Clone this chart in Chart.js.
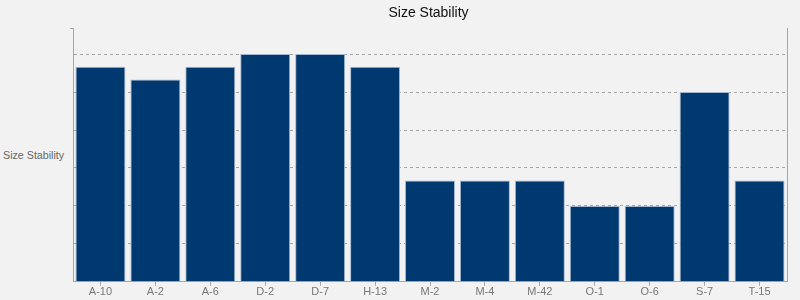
<!DOCTYPE html>
<html>
<head>
<meta charset="utf-8">
<script src="https://cdn.jsdelivr.net/npm/chart.js@4/dist/chart.umd.min.js"></script>
<style>
  html, body { margin: 0; padding: 0; background: #f2f2f2; width: 800px; height: 300px; overflow: hidden; }
  #wrap { position: absolute; left: 60px; top: 0; width: 740px; height: 300px; }
  #ylabel { position: absolute; left: 3px; top: 149px; font: 10.7px "Liberation Sans", Arial, sans-serif; color: #666; white-space: nowrap; }
</style>
</head>
<body>
<div id="ylabel">Size Stability</div>
<div id="wrap"><canvas id="c" width="740" height="300"></canvas></div>
<script>
const categories = ["A-10", "A-2", "A-6", "D-2", "D-7", "H-13", "M-2", "M-4", "M-42", "O-1", "O-6", "S-7", "T-15"];
const sizeStability = [8.5, 8, 8.5, 9, 9, 8.5, 4, 4, 4, 3, 3, 7.5, 4];
const yMax = 10;
const yStep = 1.5;
const titleText = "Size Stability";

const FONT = "'Liberation Sans', Arial, sans-serif";
const gridGrey = "#a6a6a6";

new Chart(document.getElementById("c"), {
  type: "bar",
  data: {
    labels: categories,
    datasets: [{
      label: "Size Stability",
      data: sizeStability,
      backgroundColor: "#003870",
      borderColor: "#a3b6cf",
      borderWidth: 1,
      categoryPercentage: 0.91,
      barPercentage: 1.0
    }]
  },
  options: {
    responsive: false,
    animation: false,
    layout: { padding: { left: 10, right: 13, top: 0, bottom: 1 } },
    plugins: {
      legend: { display: false },
      tooltip: { enabled: false },
      title: {
        display: true,
        text: titleText,
        color: "#111",
        font: { family: FONT, size: 14, weight: "normal" },
        padding: { top: 5, bottom: 7 }
      }
    },
    scales: {
      x: {
        grid: { display: true, drawOnChartArea: false, offset: false, tickLength: 4, tickColor: gridGrey },
        border: { display: true, color: gridGrey, dash: [3, 3] },
        ticks: { color: "#777", font: { family: FONT, size: 11 }, padding: 0, maxRotation: 0 }
      },
      y: {
        min: 0,
        max: yMax,
        ticks: { display: false, stepSize: yStep },
        grid: {
          drawTicks: true,
          tickLength: 3,
          color: (ctx) => (ctx.tick && (ctx.tick.value === yMax || ctx.tick.value === 0)) ? "rgba(0,0,0,0)" : gridGrey,
          tickColor: (ctx) => (ctx.tick && ctx.tick.value === yMax) ? gridGrey : "rgba(0,0,0,0)"
        },
        border: { display: true, color: gridGrey, dash: [3, 3] }
      },
      y2: {
        position: "right",
        min: 0,
        max: yMax,
        ticks: { display: false },
        grid: { display: false, drawTicks: false },
        border: { display: true, color: gridGrey, dash: [3, 3] }
      }
    }
  }
});
</script>
</body>
</html>
